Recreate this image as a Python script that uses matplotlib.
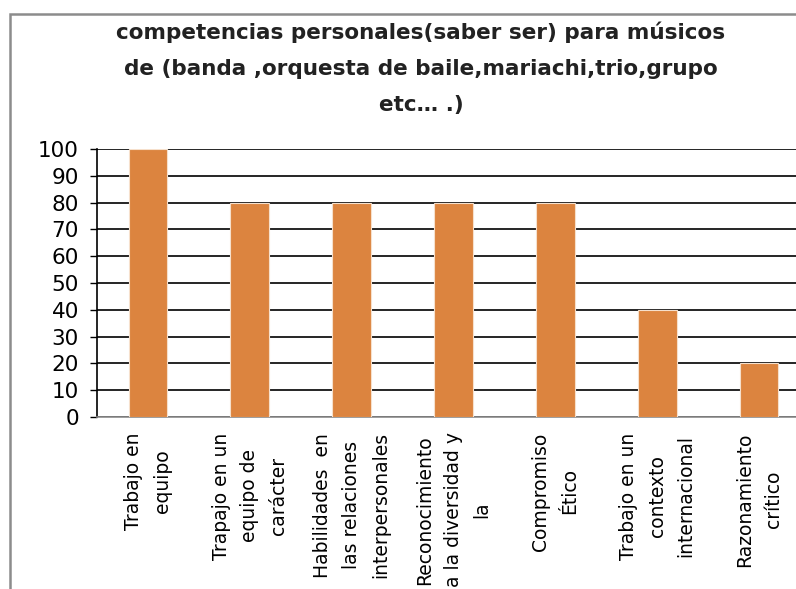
import matplotlib
matplotlib.use('Agg')
import matplotlib.pyplot as plt
from matplotlib.patches import Rectangle

# data
categories = [
    'Trabajo en\nequipo',
    'Trapajo en un\nequipo de\ncarácter',
    'Habilidades  en\nlas relaciones\ninterpersonales',
    'Reconocimiento\na la diversidad y\nla',
    'Compromiso\nÉtico',
    'Trabajo en un\ncontexto\ninternacional',
    'Razonamiento\ncrítico',
]
values = [100, 80, 80, 80, 80, 40, 20]
y_ticks = [0, 10, 20, 30, 40, 50, 60, 70, 80, 90, 100]
title = 'competencias personales(saber ser) para músicos\nde (banda ,orquesta de baile,mariachi,trio,grupo\netc… .)'

fig = plt.figure(figsize=(7.96, 5.89), dpi=100)

# outer chart border (cropped on the right and bottom)
fig.patches.append(Rectangle((10 / 796, -0.2), 1.2, 0.2 + 1 - 14 / 589,
                             transform=fig.transFigure, fill=False,
                             edgecolor='#8c8c8c', linewidth=1.8))

ax = fig.add_axes([97 / 796, 1 - 417 / 589, 713 / 796, 268 / 589])
ax.set_zorder(1)

x = range(len(categories))
ax.bar(x, values, width=0.38, color='#dc843f', edgecolor='#f6e0cc',
       linewidth=0.8, zorder=3)

ax.set_xlim(-0.5, len(categories) - 0.5)
ax.set_ylim(0, 100)
ax.set_yticks(y_ticks)
ax.yaxis.grid(True, color='black', linewidth=1.2)
ax.set_axisbelow(True)

ax.set_xticks(list(x))
ax.set_xticklabels(categories, rotation=90, ha='center', va='top',
                   multialignment='center', linespacing=1.65, fontsize=13.5)
ax.tick_params(axis='x', length=0, pad=11)
ax.tick_params(axis='y', length=5, width=1, direction='out', pad=8,
               labelsize=15.5)

for s in ['top', 'right']:
    ax.spines[s].set_visible(False)
ax.spines['left'].set_color('black')
ax.spines['left'].set_linewidth(1.2)
ax.spines['bottom'].set_color('#8c8c8c')
ax.spines['bottom'].set_linewidth(1.2)

fig.text(421 / 796, 1 - 68 / 589, title, ha='center', va='center',
         fontsize=15.5, fontweight='bold', family='DejaVu Sans',
         linespacing=2.0, color='#222222')

fig.savefig('out.png', dpi=100)
